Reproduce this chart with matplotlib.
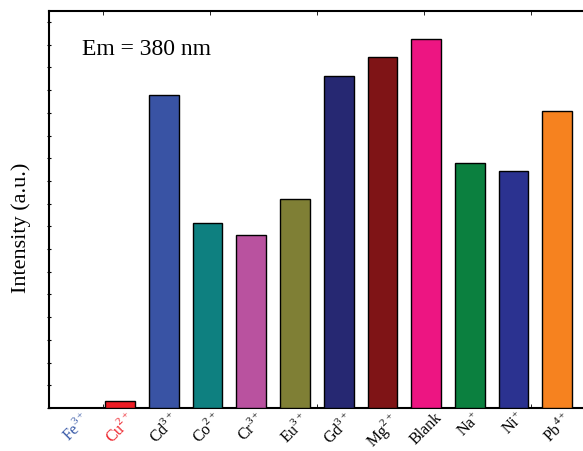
import numpy as np
import matplotlib
matplotlib.use('Agg')
import matplotlib.pyplot as plt

plt.rcParams['font.family'] = ['Liberation Serif', 'DejaVu Serif']
plt.rcParams['mathtext.fontset'] = 'custom'
plt.rcParams['mathtext.rm'] = 'Liberation Serif'

ions = ['Fe', 'Cu', 'Cd', 'Co', 'Cr', 'Eu', 'Gd', 'Mg', 'Blank', 'Na', 'Ni', 'Pb']
charges = ['3+', '2+', '3+', '2+', '3+', '3+', '3+', '2+', '', '+', '+', '4+']
intensity = [0.0, 0.33, 13.8, 8.15, 7.62, 9.2, 14.63, 15.46, 16.26, 10.79, 10.44, 13.1]
bar_colors = ['#3a5ba8', '#ed1c24', '#3953a4', '#0e8080', '#b9529f', '#7f7f35',
              '#262872', '#7f1416', '#ed1582', '#0b803f', '#2b3290', '#f6821f']
label_colors = ['#3a5ba8', '#ed1c24'] + ['black'] * 10

fig = plt.figure(figsize=(5.83, 4.52), dpi=100)
ax = fig.add_axes([48.5 / 583, 43 / 452, (588 - 48.5) / 583, 397.5 / 452])

x = np.arange(len(ions))
ax.bar(x, intensity, width=0.68, color=bar_colors, edgecolor='black', linewidth=1.0, zorder=3)

ax.set_xlim(-0.64, (588 - 76.5) / 43.7)
ax.set_ylim(0, 17.51)

labels = [r'%s$^{%s}$' % (n, c) if c else n for n, c in zip(ions, charges)]
ax.set_xticks(x)
ax.set_xticklabels(labels, rotation=45, ha='center', fontsize=11.5)
for t, c in zip(ax.get_xticklabels(), label_colors):
    t.set_color(c)
ax.tick_params(axis='x', which='major', length=0, pad=0.5)
ax.set_xticks([0.6, 3.05, 5.5, 7.95, 10.4], minor=True)
ax.tick_params(axis='x', which='minor', direction='in', length=3, top=True, bottom=True)

ax.set_yticks(np.arange(0, 18))
ax.set_yticklabels([])
ax.tick_params(axis='y', which='major', direction='inout', length=3, width=0.8)

for s in ['left', 'bottom', 'top']:
    ax.spines[s].set_linewidth(1.5)
ax.spines['right'].set_visible(False)

ax.set_ylabel('Intensity (a.u.)', fontsize=16)
ax.yaxis.set_label_coords(-0.032, 0.455)
ax.text(0.063, 0.905, 'Em = 380 nm', transform=ax.transAxes, fontsize=17, va='center')

plt.savefig('out.png', dpi=100)
plt.close()
